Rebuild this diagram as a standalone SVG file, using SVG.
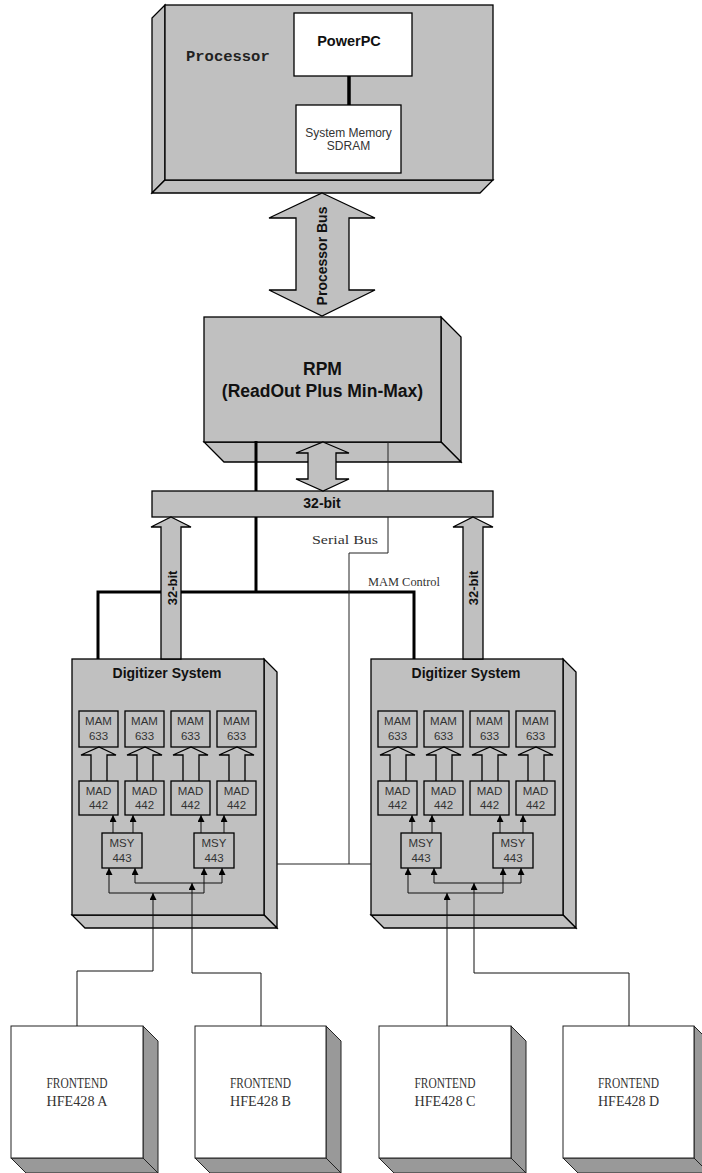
<svg xmlns="http://www.w3.org/2000/svg" width="702" height="1173" viewBox="0 0 702 1173">
<style>
.g{fill:#c0c0c0;stroke:#000;stroke-width:1.3}
.w{fill:#fff;stroke:#000;stroke-width:1.3}
.fe{fill:#fff;stroke:#222;stroke-width:1}
.fes{fill:#999;stroke:#222;stroke-width:1}
.thick{fill:none;stroke:#000;stroke-width:3}
.thin{fill:none;stroke:#222;stroke-width:1}
.hol{fill:none;stroke:#000;stroke-width:1.3}
.ar{fill:none;stroke:#111;stroke-width:1}
.blk{fill:#c0c0c0;stroke:#000;stroke-width:1.3;stroke-linejoin:miter}
.sb{font-family:"Liberation Sans",Arial,sans-serif;font-weight:bold;fill:#111;text-anchor:middle}
.sr{font-family:"Liberation Sans",Arial,sans-serif;fill:#333;text-anchor:middle}
.box{font-family:"Liberation Sans",Arial,sans-serif;fill:#333;text-anchor:middle;font-size:11.5px}
.ser{font-family:"Liberation Serif","Times New Roman",serif;fill:#333}
</style>
<defs>
<marker id="ah" viewBox="0 0 10 10" refX="10" refY="5" markerWidth="7" markerHeight="7" markerUnits="userSpaceOnUse" orient="auto">
<path d="M0,0 L10,5 L0,10 z" fill="#000"/>
</marker>
</defs>

<g id="processor">
<polygon class="g" points="165,5 152,18 152,193 165,180"/>
<polygon class="g" points="152,193 165,180 493,180 480,193"/>
<rect class="g" x="165" y="5" width="328" height="175"/>
<text x="186" y="61" font-family="'Liberation Mono','Courier New',monospace" font-weight="bold" font-size="15.5" fill="#222">Processor</text>
</g>
<g id="powerpc">
<rect class="w" x="294" y="13" width="118" height="63"/>
<text class="sb" x="349" y="46" font-size="14.5">PowerPC</text>
</g>
<g id="sysmem">
<rect class="w" x="296" y="105" width="105" height="68"/>
<text class="sr" x="348.5" y="137" font-size="12">System Memory</text>
<text class="sr" x="348.5" y="150" font-size="12">SDRAM</text>
</g>

<g id="rpm">
<polygon class="g" points="441,317 461,337 461,462 441,442"/>
<polygon class="g" points="204,442 441,442 461,462 224,462"/>
<rect class="g" x="204" y="317" width="237" height="125"/>
<text class="sb" x="322.5" y="375" font-size="17.5">RPM</text>
<text class="sb" x="322.5" y="397" font-size="17.5">(ReadOut Plus Min-Max)</text>
</g>

<g id="bus32">
<rect class="g" x="152" y="491" width="341" height="26"/>
<text class="sb" x="322" y="508" font-size="14">32-bit</text>
</g>

<g id="digitizer-left">
<polygon class="g" points="264,659 277,672 277,928 264,915"/>
<polygon class="g" points="72,915 264,915 277,928 85,928"/>
<rect class="g" x="72" y="659" width="192" height="256"/>
<text class="sb" x="167" y="678" font-size="14">Digitizer System</text>
<g id="mam-l1"><rect class="g" x="79" y="711" width="39" height="36"/><text class="box" x="98.5" y="725">MAM</text><text class="box" x="98.5" y="740">633</text></g>
<g id="mam-l2"><rect class="g" x="125" y="711" width="39" height="36"/><text class="box" x="144.5" y="725">MAM</text><text class="box" x="144.5" y="740">633</text></g>
<g id="mam-l3"><rect class="g" x="171" y="711" width="39" height="36"/><text class="box" x="190.5" y="725">MAM</text><text class="box" x="190.5" y="740">633</text></g>
<g id="mam-l4"><rect class="g" x="217" y="711" width="39" height="36"/><text class="box" x="236.5" y="725">MAM</text><text class="box" x="236.5" y="740">633</text></g>
<g id="mad-l1"><rect class="g" x="79" y="781" width="39" height="34"/><text class="box" x="98.5" y="795">MAD</text><text class="box" x="98.5" y="809">442</text></g>
<g id="mad-l2"><rect class="g" x="125" y="781" width="39" height="34"/><text class="box" x="144.5" y="795">MAD</text><text class="box" x="144.5" y="809">442</text></g>
<g id="mad-l3"><rect class="g" x="171" y="781" width="39" height="34"/><text class="box" x="190.5" y="795">MAD</text><text class="box" x="190.5" y="809">442</text></g>
<g id="mad-l4"><rect class="g" x="217" y="781" width="39" height="34"/><text class="box" x="236.5" y="795">MAD</text><text class="box" x="236.5" y="809">442</text></g>
<g id="msy-l1"><rect class="g" x="102" y="833" width="40" height="35"/><text class="box" x="122" y="847">MSY</text><text class="box" x="122" y="862">443</text></g>
<g id="msy-l2"><rect class="g" x="194" y="833" width="40" height="35"/><text class="box" x="214" y="847">MSY</text><text class="box" x="214" y="862">443</text></g>
</g>

<g id="digitizer-right">
<polygon class="g" points="563,659 576,672 576,928 563,915"/>
<polygon class="g" points="371,915 563,915 576,928 384,928"/>
<rect class="g" x="371" y="659" width="192" height="256"/>
<text class="sb" x="466" y="678" font-size="14">Digitizer System</text>
<g id="mam-r1"><rect class="g" x="378" y="711" width="39" height="36"/><text class="box" x="397.5" y="725">MAM</text><text class="box" x="397.5" y="740">633</text></g>
<g id="mam-r2"><rect class="g" x="424" y="711" width="39" height="36"/><text class="box" x="443.5" y="725">MAM</text><text class="box" x="443.5" y="740">633</text></g>
<g id="mam-r3"><rect class="g" x="470" y="711" width="39" height="36"/><text class="box" x="489.5" y="725">MAM</text><text class="box" x="489.5" y="740">633</text></g>
<g id="mam-r4"><rect class="g" x="516" y="711" width="39" height="36"/><text class="box" x="535.5" y="725">MAM</text><text class="box" x="535.5" y="740">633</text></g>
<g id="mad-r1"><rect class="g" x="378" y="781" width="39" height="34"/><text class="box" x="397.5" y="795">MAD</text><text class="box" x="397.5" y="809">442</text></g>
<g id="mad-r2"><rect class="g" x="424" y="781" width="39" height="34"/><text class="box" x="443.5" y="795">MAD</text><text class="box" x="443.5" y="809">442</text></g>
<g id="mad-r3"><rect class="g" x="470" y="781" width="39" height="34"/><text class="box" x="489.5" y="795">MAD</text><text class="box" x="489.5" y="809">442</text></g>
<g id="mad-r4"><rect class="g" x="516" y="781" width="39" height="34"/><text class="box" x="535.5" y="795">MAD</text><text class="box" x="535.5" y="809">442</text></g>
<g id="msy-r1"><rect class="g" x="401" y="833" width="40" height="35"/><text class="box" x="421" y="847">MSY</text><text class="box" x="421" y="862">443</text></g>
<g id="msy-r2"><rect class="g" x="493" y="833" width="40" height="35"/><text class="box" x="513" y="847">MSY</text><text class="box" x="513" y="862">443</text></g>
</g>

<g id="frontend-a">
<polygon class="fes" points="143,1026 158,1041 158,1173 143,1158"/>
<polygon class="fes" points="11,1158 143,1158 158,1173 26,1173"/>
<rect class="fe" x="11" y="1026" width="132" height="132"/>
<text class="ser" x="77" y="1088" font-size="14" text-anchor="middle" textLength="61" lengthAdjust="spacingAndGlyphs">FRONTEND</text>
<text class="ser" x="77" y="1106" font-size="14" text-anchor="middle" textLength="61" lengthAdjust="spacingAndGlyphs">HFE428 A</text>
</g>
<g id="frontend-b">
<polygon class="fes" points="326,1026 341,1041 341,1173 326,1158"/>
<polygon class="fes" points="195,1158 326,1158 341,1173 210,1173"/>
<rect class="fe" x="195" y="1026" width="131" height="132"/>
<text class="ser" x="260.5" y="1088" font-size="14" text-anchor="middle" textLength="61" lengthAdjust="spacingAndGlyphs">FRONTEND</text>
<text class="ser" x="260.5" y="1106" font-size="14" text-anchor="middle" textLength="61" lengthAdjust="spacingAndGlyphs">HFE428 B</text>
</g>
<g id="frontend-c">
<polygon class="fes" points="511,1026 526,1041 526,1173 511,1158"/>
<polygon class="fes" points="379,1158 511,1158 526,1173 394,1173"/>
<rect class="fe" x="379" y="1026" width="132" height="132"/>
<text class="ser" x="445" y="1088" font-size="14" text-anchor="middle" textLength="61" lengthAdjust="spacingAndGlyphs">FRONTEND</text>
<text class="ser" x="445" y="1106" font-size="14" text-anchor="middle" textLength="61" lengthAdjust="spacingAndGlyphs">HFE428 C</text>
</g>
<g id="frontend-d">
<polygon class="fes" points="694,1026 709,1041 709,1173 694,1158"/>
<polygon class="fes" points="563,1158 694,1158 709,1173 578,1173"/>
<rect class="fe" x="563" y="1026" width="131" height="132"/>
<text class="ser" x="628.5" y="1088" font-size="14" text-anchor="middle" textLength="61" lengthAdjust="spacingAndGlyphs">FRONTEND</text>
<text class="ser" x="628.5" y="1106" font-size="14" text-anchor="middle" textLength="61" lengthAdjust="spacingAndGlyphs">HFE428 D</text>
</g>

<g id="connectors">
<line x1="349" y1="76" x2="349" y2="105" stroke="#000" stroke-width="3.5"/>
<polygon class="blk" points="322,193 375,218 349,218 349,290 375,290 322,316 269,290 296,290 296,218 269,218"/>
<text class="sb" font-size="14" transform="translate(327,256) rotate(-90)">Processor Bus</text>
<polygon class="blk" points="323,442 349,453 336,453 336,479 349,479 323,491 296,479 308,479 308,453 296,453"/>
<line class="thick" x1="256" y1="441" x2="256" y2="491"/>
<polyline class="thick" points="256,517 256,592"/>
<polyline class="thick" points="98,659 98,592 414,592 414,659"/>
<line class="thin" x1="388" y1="442" x2="388" y2="491"/>
<polyline class="thin" points="388,517 388,553 349,553 349,864"/>
<line class="thin" x1="277" y1="864" x2="371" y2="864"/>
<text class="ser" x="312" y="544" font-size="13" textLength="66" lengthAdjust="spacingAndGlyphs" fill="#444">Serial Bus</text>
<text class="ser" x="368" y="586" font-size="13" textLength="72" lengthAdjust="spacingAndGlyphs" fill="#444">MAM Control</text>
<polygon class="blk" points="171,517 191,527 181,527 181,659 161,659 161,527 151,527"/>
<text class="sb" font-size="13" transform="translate(177,588) rotate(-90)">32-bit</text>
<polygon class="blk" points="473,517 493,527 483,527 483,659 463,659 463,527 453,527"/>
<text class="sb" font-size="13" transform="translate(478,588) rotate(-90)">32-bit</text>

<polyline class="hol" points="91,781 91,755 81,755 99,747 116,755 107,755 107,781"/>
<polyline class="hol" points="137,781 137,755 127,755 145,747 162,755 153,755 153,781"/>
<polyline class="hol" points="183,781 183,755 173,755 191,747 208,755 199,755 199,781"/>
<polyline class="hol" points="229,781 229,755 219,755 237,747 254,755 245,755 245,781"/>
<polyline class="hol" points="390,781 390,755 380,755 398,747 415,755 406,755 406,781"/>
<polyline class="hol" points="436,781 436,755 426,755 444,747 461,755 452,755 452,781"/>
<polyline class="hol" points="482,781 482,755 472,755 490,747 507,755 498,755 498,781"/>
<polyline class="hol" points="528,781 528,755 518,755 536,747 553,755 544,755 544,781"/>

<line class="ar" x1="113" y1="833" x2="113" y2="815" marker-end="url(#ah)"/>
<line class="ar" x1="133" y1="833" x2="133" y2="815" marker-end="url(#ah)"/>
<line class="ar" x1="201" y1="833" x2="201" y2="815" marker-end="url(#ah)"/>
<line class="ar" x1="224" y1="833" x2="224" y2="815" marker-end="url(#ah)"/>
<line class="ar" x1="412" y1="833" x2="412" y2="815" marker-end="url(#ah)"/>
<line class="ar" x1="432" y1="833" x2="432" y2="815" marker-end="url(#ah)"/>
<line class="ar" x1="500" y1="833" x2="500" y2="815" marker-end="url(#ah)"/>
<line class="ar" x1="523" y1="833" x2="523" y2="815" marker-end="url(#ah)"/>

<line class="ar" x1="109" y1="893" x2="204" y2="893"/>
<line class="ar" x1="109" y1="893" x2="109" y2="868" marker-end="url(#ah)"/>
<line class="ar" x1="204" y1="893" x2="204" y2="868" marker-end="url(#ah)"/>
<line class="ar" x1="135" y1="883" x2="222" y2="883"/>
<line class="ar" x1="135" y1="883" x2="135" y2="868" marker-end="url(#ah)"/>
<line class="ar" x1="222" y1="883" x2="222" y2="868" marker-end="url(#ah)"/>
<line class="ar" x1="408" y1="893" x2="503" y2="893"/>
<line class="ar" x1="408" y1="893" x2="408" y2="868" marker-end="url(#ah)"/>
<line class="ar" x1="503" y1="893" x2="503" y2="868" marker-end="url(#ah)"/>
<line class="ar" x1="434" y1="883" x2="521" y2="883"/>
<line class="ar" x1="434" y1="883" x2="434" y2="868" marker-end="url(#ah)"/>
<line class="ar" x1="521" y1="883" x2="521" y2="868" marker-end="url(#ah)"/>

<polyline class="ar" points="77,1026 77,971 153,971 153,893" marker-end="url(#ah)"/>
<polyline class="ar" points="261,1026 261,973 192,973 192,883" marker-end="url(#ah)"/>
<polyline class="ar" points="447,1026 447,893" marker-end="url(#ah)"/>
<polyline class="ar" points="629,1026 629,973 474,973 474,883" marker-end="url(#ah)"/>
</g>
</svg>
